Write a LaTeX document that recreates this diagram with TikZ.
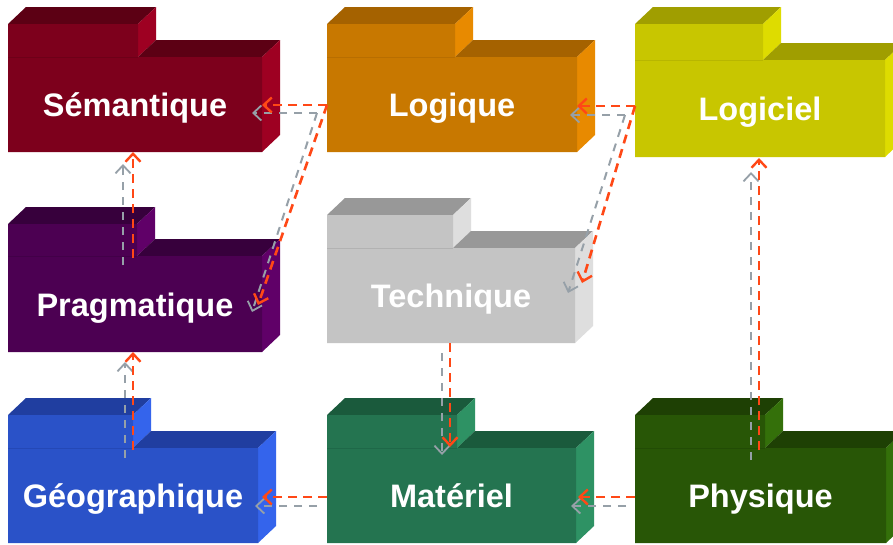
\documentclass[tikz,border=0pt]{standalone}
\usepackage{fontspec}
\setmainfont{Liberation Sans}
\usetikzlibrary{arrows.meta,calc}
% colours: F front, T top, S side, L tab line
\definecolor{semF}{RGB}{125,0,28}\definecolor{semT}{RGB}{92,0,20}\definecolor{semS}{RGB}{158,0,34}\definecolor{semL}{RGB}{110,0,24}
\definecolor{logF}{RGB}{200,120,0}\definecolor{logT}{RGB}{165,98,0}\definecolor{logS}{RGB}{232,138,0}\definecolor{logL}{RGB}{184,110,0}
\definecolor{lgcF}{RGB}{200,198,0}\definecolor{lgcT}{RGB}{160,158,0}\definecolor{lgcS}{RGB}{222,220,0}\definecolor{lgcL}{RGB}{184,182,0}
\definecolor{praF}{RGB}{76,0,82}\definecolor{praT}{RGB}{55,0,60}\definecolor{praS}{RGB}{96,0,104}\definecolor{praL}{RGB}{66,0,72}
\definecolor{tecF}{RGB}{196,196,196}\definecolor{tecT}{RGB}{152,152,152}\definecolor{tecS}{RGB}{222,222,222}\definecolor{tecL}{RGB}{178,178,178}
\definecolor{geoF}{RGB}{42,82,200}\definecolor{geoT}{RGB}{32,62,160}\definecolor{geoS}{RGB}{52,100,236}\definecolor{geoL}{RGB}{36,72,182}
\definecolor{matF}{RGB}{36,116,80}\definecolor{matT}{RGB}{26,90,60}\definecolor{matS}{RGB}{46,146,100}\definecolor{matL}{RGB}{30,104,72}
\definecolor{phyF}{RGB}{40,86,6}\definecolor{phyT}{RGB}{30,64,4}\definecolor{phyS}{RGB}{52,112,10}\definecolor{phyL}{RGB}{34,76,5}
\definecolor{arrred}{RGB}{255,72,22}
\definecolor{arrgrey}{RGB}{150,160,168}
\tikzset{
  pkglabel/.style={text=white,font=\fontsize{32.5}{36}\selectfont\bfseries,inner sep=0pt,anchor=base},
  redarr/.style={draw=arrred,line width=2.6pt,dash pattern=on 9pt off 6pt,
    -{Straight Barb[length=8pt,width=15pt,line width=2.4pt]}},
  greyarr/.style={draw=arrgrey,line width=2pt,dash pattern=on 8pt off 7pt,
    -{Straight Barb[length=8pt,width=15pt,line width=1.8pt]}},
}
% #1 name #2 L #3 T #4 B #5 Bot #6 R1 #7 R2 #8 colour prefix #9 label
\newcommand\pkgbox[9]{%
  \fill[#8T] (#2,#3) -- (#2+18,#3-17) -- (#6+18,#3-17) -- (#6,#3) -- cycle;
  \fill[#8S] (#6,#3) -- (#6+18,#3-17) -- (#6+18,#4-17) -- (#6,#4) -- cycle;
  \fill[#8T] (#6,#4) -- (#6+18,#4-17) -- (#7+18,#4-17) -- (#7,#4) -- cycle;
  \fill[#8S] (#7,#4) -- (#7+18,#4-17) -- (#7+18,#5-17) -- (#7,#5) -- cycle;
  \fill[#8F] (#2,#3) -- (#6,#3) -- (#6,#4) -- (#7,#4) -- (#7,#5) -- (#2,#5) -- cycle;
  \draw[#8L,line width=1pt] (#2,#4) -- (#6,#4);
  \node[inner sep=0pt,outer sep=0pt,anchor=north west,
        minimum width={(#7-#2)*1pt},minimum height={(#5-#3)*1pt}] (#1) at (#2,#3) {};
  \node[pkglabel] (#1-label) at ({(#2+#7)/2},{(#4+#5)/2+12}) {#9};
}
\begin{document}
\begin{tikzpicture}[x=1pt,y=-1pt]
\useasboundingbox (0,0) rectangle (893,544);
\fill[white] (0,0) rectangle (893,544);
% packages
\pkgbox{sem}{8}{24}{57}{152}{138}{262}{sem}{Sémantique}
\pkgbox{log}{327}{24}{57}{152}{455}{577}{log}{Logique}
\pkgbox{lgc}{635}{24}{60}{157}{763}{885}{lgc}{Logiciel}
\pkgbox{prag}{8}{224}{256}{352}{137}{262}{pra}{Pragmatique}
\pkgbox{tech}{327}{215}{248}{343}{453}{575}{tec}{Technique}
\pkgbox{geo}{8}{415}{448}{543}{133}{258}{geo}{Géographique}
\pkgbox{mat}{327}{415}{448}{543}{457}{576}{mat}{Matériel}
\pkgbox{phy}{635}{415}{448}{543}{765}{886}{phy}{Physique}
% grey (shadow) connectors
\draw[greyarr] ($(log.west|-0,113)+(-10,0)$) -- ($(sem.east|-0,113)+(-10,0)$);
\draw[greyarr] ($(log.west|-0,113)+(-10,0)$) -- ($(prag.east|-0,312)+(-10,0)$);
\draw[greyarr] ($(lgc.west|-0,115)+(-10,0)$) -- ($(log.east|-0,115)+(-7,0)$);
\draw[greyarr] ($(lgc.west|-0,115)+(-10,0)$) -- ($(tech.east|-0,293)+(-7,0)$);
\draw[greyarr] ($(prag.north)+(-12,41)$) -- ($(sem.south)+(-12,12)$);
\draw[greyarr] ($(geo.north)+(-8,43)$) -- ($(prag.south-|geo.north)+(-8,10)$);
\draw[greyarr] ($(tech.south)+(-9,10)$) -- ($(mat.north)+(-9.5,40)$);
\draw[greyarr] ($(mat.west|-0,506)+(-10,0)$) -- ($(geo.east|-0,506)+(-3,0)$);
\draw[greyarr] ($(phy.west|-0,506)+(-9,0)$) -- ($(mat.east|-0,506)+(-5,0)$);
\draw[greyarr] ($(phy.north)+(-9.5,45)$) -- ($(lgc.south)+(-9,15)$);
% red connectors
\draw[redarr] (log.west|-0,105) -- (sem.east|-0,105);
\draw[redarr] (log.west|-0,105) -- ($(prag.east|-0,305)+(-4,0)$);
\draw[redarr] (lgc.west|-0,106) -- (log.east|-0,106);
\draw[redarr] (lgc.west|-0,106) -- ($(tech.east|-0,283)+(7,0)$);
\draw[redarr] ($(prag.north)+(-2,34)$) -- ($(sem.south)+(-2,0)$);
\draw[redarr] ($(geo.north)+(0,35)$) -- (prag.south-|geo.north);
\draw[redarr] ($(tech.south)+(-1,0)$) -- ($(mat.north)+(-1.5,32)$);
\draw[redarr] (mat.west|-0,497) -- ($(geo.east|-0,497)+(4,0)$);
\draw[redarr] (phy.west|-0,497) -- ($(mat.east|-0,497)+(2,0)$);
\draw[redarr] ($(phy.north)+(-1.5,35)$) -- ($(lgc.south)+(-1,1)$);
\end{tikzpicture}
\end{document}
